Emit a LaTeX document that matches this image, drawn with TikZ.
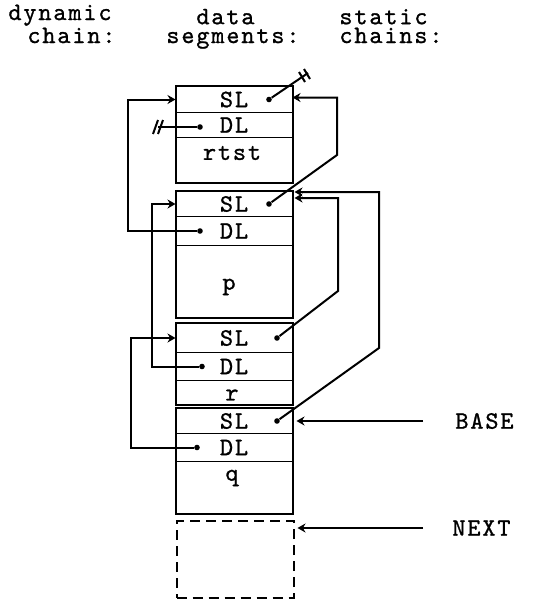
\documentclass[tikz,border=0pt]{standalone}
\usepackage{fontspec}
\usepackage{tikz}
\usetikzlibrary{arrows.meta,positioning}
\newfontfamily\typew{lmmono10-regular.otf}[LetterSpace=7.5, FakeBold=1]

\begin{document}
\begin{tikzpicture}[
  x=0.5pt, y=-0.5pt,
  every node/.style={font=\typew\fontsize{12.5}{9.4}\selectfont, inner sep=0pt},
  link/.style={-{Stealth[length=4pt,width=4.5pt]}, line width=1pt},
  nil/.style={line width=1pt},
  segrow/.style={draw, line width=0.5pt, minimum width=58pt, anchor=north},
  segbox/.style={draw, line width=1pt},
  freebox/.style={draw, dash pattern=on 5pt off 3pt, line width=1pt, minimum width=58.5pt, minimum height=38.5pt, anchor=north},
  dot/.style={circle, fill, minimum size=2.8pt}
]
  \useasboundingbox (0,0) rectangle (532,601);
  % column headings
  \node[anchor=base west, align=left] (hdyn) at (8,43) {dynamic\\\hspace*{9.5pt}chain:};
  \node[anchor=base west, align=left] (hseg) at (166,43) {\hspace*{15pt}data\\segments:};
  \node[anchor=base west, align=left] (hstat) at (339,43) {static\\chains:};
  % segment rtst
  \node[segrow, minimum height=13pt] (sl1) at (234,86) {SL};
  \node[segrow, minimum height=12.5pt] (dl1) at (234,112) {DL};
  \node[segrow, minimum height=22.5pt] (bd1) at (234,137) {};
  \node (t1) at (232,153) {rtst};
  \draw[segbox] (sl1.north west) rectangle (bd1.south east);
  % segment p
  \node[segrow, minimum height=12.5pt] (sl2) at (234,191) {SL};
  \node[segrow, minimum height=14.5pt] (dl2) at (234,216) {DL};
  \node[segrow, minimum height=36pt] (bd2) at (234,245) {};
  \node (t2) at (229,287) {p};
  \draw[segbox] (sl2.north west) rectangle (bd2.south east);
  % segment r
  \node[segrow, minimum height=14.5pt] (sl3) at (234,323) {SL};
  \node[segrow, minimum height=14pt] (dl3) at (234,352) {DL};
  \node[segrow, minimum height=12pt] (bd3) at (234,380) {};
  \node (t3) at (232,395) {r};
  \draw[segbox] (sl3.north west) rectangle (bd3.south east);
  % segment q
  \node[segrow, minimum height=12.5pt] (sl4) at (234,408) {SL};
  \node[segrow, minimum height=14pt] (dl4) at (234,433) {DL};
  \node[segrow, minimum height=26pt] (bd4) at (234,461) {};
  \node (t4) at (232,478) {q};
  \draw[segbox] (sl4.north west) rectangle (bd4.south east);
  % free space
  \node[freebox] (free) at (235,520) {};
  % link fields
  \node[dot] (sl1d) at ([xshift=17.5pt]sl1.center) {};
  \node[dot] (dl1d) at ([xshift=-17pt,yshift=-1pt]dl1.center) {};
  \node[dot] (sl2d) at ([xshift=17.5pt]sl2.center) {};
  \node[dot] (dl2d) at ([xshift=-17pt]dl2.center) {};
  \node[dot] (sl3d) at ([xshift=21.5pt]sl3.center) {};
  \node[dot] (dl3d) at ([xshift=-16pt]dl3.center) {};
  \node[dot] (sl4d) at ([xshift=21.5pt]sl4.center) {};
  \node[dot] (dl4d) at ([xshift=-18.5pt]dl4.center) {};
  % nil pointers
  \coordinate (nil1) at (158,127);
  \coordinate (nil2) at (308,73);
  \draw[nil] (dl1d) -- (nil1);
  \draw[nil] (nil1) ++(-5,7) -- ++(5,-14) (nil1) ++(0,7) -- ++(5,-14);
  \draw[nil] (sl1d) -- (nil2);
  \draw[nil] (nil2) ++(-9,-1) -- ++(6,10) (nil2) ++(-4,-4) -- ++(6,10);
  % dynamic chain
  \draw[link] (dl2d) -- ++(-72,0) |- (sl1.west);
  \draw[link] (dl3d) -- ++(-50,0) |- (sl2.west);
  \draw[link] (dl4d) -- ++(-66,0) |- (sl3.west);
  % static chains
  \draw[link] (sl2d) -- ++(68,-49) |- ([yshift=1pt]sl1.east);
  \draw[link] (sl3d) -- ++(61,-47) |- ([xshift=1pt,yshift=3pt]sl2.east);
  \draw[link] (sl4d) -- ++(102,-73) |- ([xshift=1pt,yshift=6pt]sl2.east);
  % registers
  \node[anchor=west] (base) at (455,421) {BASE};
  \node[anchor=west] (next) at (452,528) {NEXT};
  \draw[link] ([xshift=-16pt]base.west) -- ([xshift=2pt]sl4.east);
  \draw[link] ([xshift=-14.5pt]next.west) -- ([xshift=1.5pt,yshift=-4pt]free.north east);
\end{tikzpicture}
\end{document}
